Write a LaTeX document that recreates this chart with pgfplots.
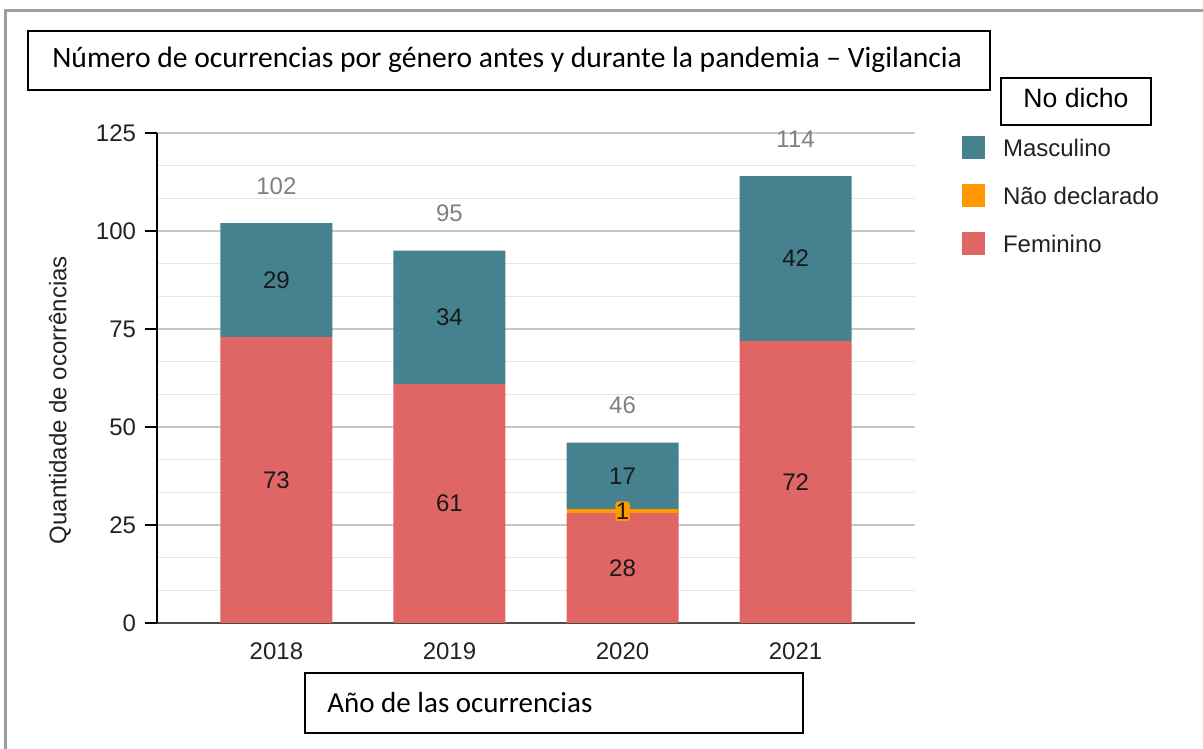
\documentclass[border=0pt]{standalone}
\usepackage{pgfplots}
\pgfplotsset{compat=1.18}
\usepackage{fontspec}
\setmainfont{Liberation Sans}
\newfontfamily\calibri{Carlito}
\definecolor{masc}{HTML}{45818E}
\definecolor{nd}{HTML}{FF9900}
\definecolor{fem}{HTML}{E06666}
\definecolor{txt}{HTML}{222222}
\tikzset{seglab/.style={font=\fontsize{12bp}{14bp}\selectfont, text=black!90, inner sep=0pt},
  totlab/.style={font=\fontsize{12bp}{14bp}\selectfont, text=black!50, inner sep=0pt, yshift=18.5bp}}
\begin{document}
\begin{tikzpicture}
\path[use as bounding box] (0,0) rectangle (601.5bp,374.5bp);
\begin{scope}[x=0.5bp,y=0.5bp]
\clip (0,0) rectangle (1203,749);
\draw[color=black!38, line width=1.5bp] (6,-20) -- (6,739) -- (1230,739);
\draw[line width=1bp] (28,718) rectangle (990,659);
\node[anchor=west, inner sep=0pt, font=\calibri\fontsize{14.78bp}{17bp}\selectfont] at (52,689) {Número de ocurrencias por género antes y durante la pandemia – Vigilancia};
\draw[line width=1bp, fill=white] (1001,671) rectangle (1151,624);
\node[inner sep=0pt, font=\fontsize{13.3bp}{16bp}\selectfont] at (1076,651) {No dicho};
\draw[line width=1bp] (305,76) rectangle (803,16);
\node[anchor=west, inner sep=0pt, font=\calibri\fontsize{14.5bp}{17bp}\selectfont] at (327,46) {Año de las ocurrencias};
\end{scope}
\begin{axis}[
  at={(78.5bp,63bp)}, anchor=south west,
  scale only axis, width=379bp, height=245bp,
  xmin=-0.69, xmax=3.69, ymin=0, ymax=125,
  ybar stacked, bar width=56bp,
  xtick={0,1,2,3}, xticklabels={2018,2019,2020,2021},
  ytick={0,25,50,75,100,125}, minor y tick num=2,
  ymajorgrids, yminorgrids,
  major grid style={draw=black!22, line width=0.6bp},
  minor grid style={draw=black!10, line width=0.6bp},
  axis x line*=bottom, axis y line*=left,
  x axis line style={draw=black!70, line width=0.7bp, -},
  y axis line style={draw=black, line width=0.7bp, -},
  xtick style={draw=none},
  ytick style={draw=black, line width=0.7bp},
  tick align=outside, major tick length=6bp, minor tick length=0pt,
  /pgf/number format/assume math mode=true,
  ticklabel style={font=\fontsize{12bp}{14bp}\selectfont, text=txt},
  yticklabel style={xshift=-1bp},
  xticklabel style={yshift=-0.5bp},
  ylabel={Quantidade de ocorrências},
  ylabel style={at={(axis description cs:-0.128,0.455)}, anchor=center, font=\fontsize{12bp}{14bp}\selectfont, text=txt},
  reverse legend,
  legend image code/.code={\fill[#1] (0bp,-5.75bp) rectangle (11.5bp,5.75bp);},
  legend style={at={(axis description cs:1.062,0.993)}, anchor=north west, draw=none, fill=none,
    inner sep=0pt, outer sep=0pt, row sep=12.5bp,
    font=\fontsize{12bp}{14bp}\selectfont, text=txt,
    nodes={inner sep=0pt, text height=8.6bp, text depth=0pt},
    /tikz/every odd column/.append style={column sep=9bp}},
  legend cell align=left,
  clip=false,
]
\addplot[fill=fem, draw=none] coordinates {(0,73) (1,61) (2,28) (3,72)};
\addplot[fill=nd, draw=none] coordinates {(0,0) (1,0) (2,1) (3,0)};
\addplot[fill=masc, draw=none] coordinates {(0,29) (1,34) (2,17) (3,42)};
\legend{Feminino, Não declarado, Masculino}
\coordinate (f0) at (axis cs:0,36.5);
\coordinate (f1) at (axis cs:1,30.5);
\coordinate (f2) at (axis cs:2,14);
\coordinate (f3) at (axis cs:3,36);
\coordinate (m0) at (axis cs:0,87.5);
\coordinate (m1) at (axis cs:1,78);
\coordinate (m2) at (axis cs:2,37.5);
\coordinate (m3) at (axis cs:3,93);
\coordinate (n2) at (axis cs:2,28.5);
\node[totlab] at (axis cs:0,102) {102};
\node[totlab] at (axis cs:1,95) {95};
\node[totlab] at (axis cs:2,46) {46};
\node[totlab] at (axis cs:3,114) {114};
\end{axis}
\node[seglab] at (f0) {73};
\node[seglab] at (f1) {61};
\node[seglab] at (f2) {28};
\node[seglab] at (f3) {72};
\node[seglab] at (m0) {29};
\node[seglab] at (m1) {34};
\node[seglab] at (m2) {17};
\node[seglab] at (m3) {42};
\node[seglab, fill=nd, rounded corners=1.5bp, inner xsep=0.3bp, inner ysep=0.8bp] at (n2) {1};
\end{tikzpicture}
\end{document}
